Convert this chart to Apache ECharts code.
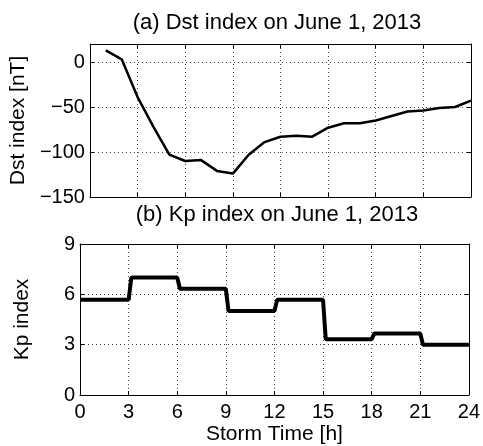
<!DOCTYPE html>
<html>
<head>
<meta charset="utf-8">
<script src="https://cdn.jsdelivr.net/npm/echarts@6/dist/echarts.min.js"></script>
<style>
html,body{margin:0;padding:0;background:#fff;}
#chart{width:483px;height:446px;}
</style>
</head>
<body>
<div id="chart"></div>
<script>
// Dst hourly values, June 1 2013 (storm time hours 1..24)
var dstHours = [1,2,3,4,5,6,7,8,9,10,11,12,13,14,15,16,17,18,19,20,21,22,23,24];
var dstValues = [13,3,-39,-72,-103,-110,-109,-121,-124,-103,-89,-83,-82,-83,-73,-68,-68,-65,-60,-55,-54,-51,-50,-43];
// Kp 3-hour values
var kpStarts = [0,3,6,9,12,15,18,21];
var kpValues = [5.67,7,6.33,5,5.67,3.33,3.67,3];

var FONT = 'Liberation Sans';
var RAMP = 1/6; // the Kp line ramps over one sample into the next level

var dstData = dstHours.map(function(h,i){return [h,dstValues[i]];});
var kpData = [];
kpStarts.forEach(function(s,i){
	kpData.push([i===0 ? s : s+RAMP, kpValues[i]]);
	kpData.push([s+3, kpValues[i]]);
});

function minus(v){ return String(v).replace('-','\u2212'); }

var chart = echarts.init(document.getElementById('chart'));
var dotted = {show:true,showMinLine:false,showMaxLine:false,lineStyle:{color:'#444',type:[1,3],width:1}};
var tickIn = {show:true,inside:true,length:4,lineStyle:{color:'#000'}};
var boxLine = {show:true,onZero:false,lineStyle:{color:'#000',width:1}};
var labelStyle = {color:'#000',fontFamily:FONT,fontSize:21};
var titleStyle = {fontFamily:FONT,fontSize:22,fontWeight:'normal',color:'#000'};

// mirror axes give the closed box with ticks on top and right
function mirrorX(g){
	return {gridIndex:g,type:'value',position:'top',min:0,max:24,interval:3,
		axisLine:boxLine,axisTick:tickIn,axisLabel:{show:false},splitLine:{show:false}};
}
function mirrorY(g,min,max,step){
	return {gridIndex:g,type:'value',position:'right',min:min,max:max,interval:step,
		axisLine:boxLine,axisTick:tickIn,axisLabel:{show:false},splitLine:{show:false}};
}

var option = {
	animation:false,
	backgroundColor:'#fff',
	title:[
		{text:'(a) Dst index on June 1, 2013',left:272,top:7,textAlign:'center',textStyle:titleStyle},
		{text:'(b) Kp index on June 1, 2013',left:272,top:199,textAlign:'center',textStyle:titleStyle}
	],
	grid:[
		{left:80,top:44,width:391,height:153},
		{left:80,top:244,width:391,height:152}
	],
	xAxis:[
		{gridIndex:0,type:'value',min:0,max:24,interval:3,
			axisLine:boxLine,axisTick:tickIn,axisLabel:{show:false},splitLine:dotted},
		{gridIndex:1,type:'value',min:0,max:24,interval:3,
			name:'Storm Time [h]',nameLocation:'middle',nameGap:29,
			nameTextStyle:labelStyle,
			axisLine:boxLine,axisTick:tickIn,
			axisLabel:{color:'#000',fontFamily:FONT,fontSize:20,margin:7},
			splitLine:dotted},
		mirrorX(0),
		mirrorX(1)
	],
	yAxis:[
		{gridIndex:0,type:'value',min:-150,max:20,interval:50,
			name:'Dst index [nT]',nameLocation:'middle',nameGap:47,nameTextStyle:labelStyle,
			axisLine:boxLine,axisTick:tickIn,
			axisLabel:{color:'#000',fontFamily:FONT,fontSize:20,margin:5,showMaxLabel:false,formatter:minus},
			splitLine:dotted},
		{gridIndex:1,type:'value',min:0,max:9,interval:3,
			name:'Kp index',nameLocation:'middle',nameGap:47,nameTextStyle:labelStyle,
			axisLine:boxLine,axisTick:tickIn,
			axisLabel:{color:'#000',fontFamily:FONT,fontSize:20,margin:5},
			splitLine:dotted},
		mirrorY(0,-150,20,50),
		mirrorY(1,0,9,3)
	],
	series:[
		{name:'Dst',type:'line',xAxisIndex:0,yAxisIndex:0,data:dstData,
			showSymbol:false,lineStyle:{color:'#000',width:2.5},z:5},
		{name:'Kp',type:'line',xAxisIndex:1,yAxisIndex:1,data:kpData,
			showSymbol:false,lineStyle:{color:'#000',width:4},z:5}
	]
};
chart.setOption(option);
</script>
</body>
</html>
